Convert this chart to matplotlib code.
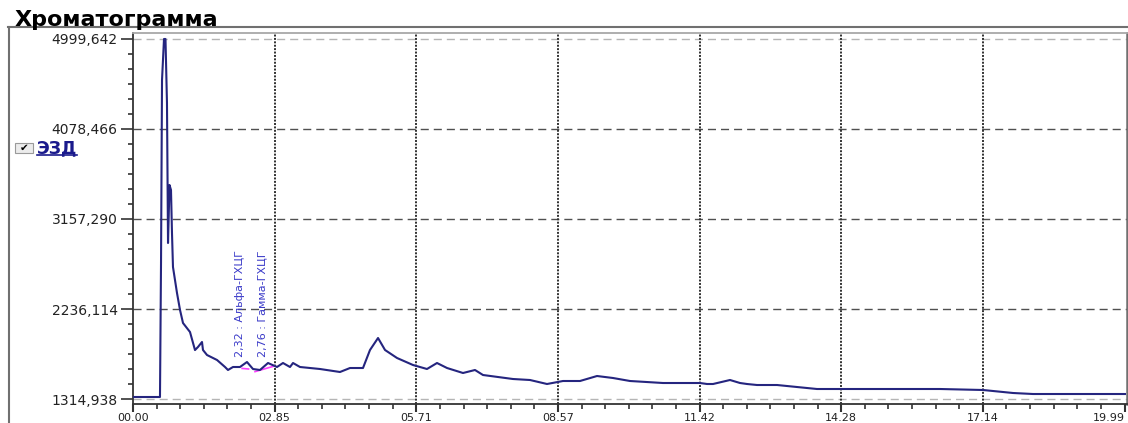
import numpy as np
import matplotlib
matplotlib.use("Agg")
import matplotlib.pyplot as plt
from matplotlib.ticker import FixedLocator, NullFormatter
from matplotlib.lines import Line2D
from matplotlib.patches import Rectangle

# ---------------- data ----------------
title = "Хроматограмма"
detector = "ЭЗД"

time_min = [0.000, 0.544, 0.565, 0.585, 0.625, 0.655, 0.685, 0.706, 0.736, 0.766,
            0.786, 0.806, 0.887, 0.948, 1.008, 1.149, 1.250, 1.310, 1.391, 1.411,
            1.492, 1.694, 1.855, 1.915, 2.016, 2.157, 2.298, 2.419, 2.560, 2.722,
            2.903, 3.024, 3.165, 3.226, 3.367, 3.770, 4.173, 4.375, 4.637, 4.778,
            4.940, 5.081, 5.323, 5.645, 5.927, 6.129, 6.331, 6.653, 6.895, 7.056,
            7.661, 8.004, 8.347, 8.669, 9.012, 9.355, 9.677, 10.020, 10.685, 11.431,
            11.573, 11.694, 12.036, 12.238, 12.379, 12.581, 12.984, 13.387, 13.790, 16.270,
            17.137, 17.742, 18.145, 19.999]
signal = [1335.4, 1335.4, 2717.2, 4580.0, 4999.6, 4999.6, 4344.6, 2911.6, 3505.3, 3454.1,
          3014.0, 2666.0, 2399.9, 2225.9, 2092.8, 2000.7, 1815.9, 1847.2, 1898.4, 1816.5,
          1765.3, 1714.1, 1642.5, 1611.8, 1642.5, 1642.5, 1693.6, 1622.0, 1611.8, 1683.4,
          1642.5, 1683.4, 1642.5, 1683.4, 1642.5, 1622.0, 1591.3, 1632.2, 1632.2, 1816.5,
          1939.3, 1816.5, 1734.6, 1662.9, 1622.0, 1683.4, 1632.2, 1581.1, 1611.8, 1560.6,
          1519.6, 1509.4, 1468.5, 1499.2, 1499.2, 1550.3, 1529.9, 1499.2, 1478.7, 1478.7,
          1468.5, 1468.5, 1509.4, 1478.7, 1468.5, 1458.2, 1458.2, 1437.7, 1417.3, 1417.3,
          1407.1, 1376.4, 1366.1, 1366.1]

y_ticks = [1314.938, 2236.114, 3157.290, 4078.466, 4999.642]
y_tick_labels = ["1314,938", "2236,114", "3157,290", "4078,466", "4999,642"]
x_ticks = [0.0, 2.8557, 5.7114, 8.5671, 11.4229, 14.2786, 17.1343, 19.99]
x_tick_labels = ["00.00", "02.85", "05.71", "08.57", "11.42", "14.28", "17.14", "19.99"]

peak_times = [2.32, 2.76]
peak_labels = ["2,32 : Альфа-ГХЦГ", "2,76 : Гамма-ГХЦГ"]
baseline_t0 = [2.20, 2.46]
baseline_t1 = [2.33, 2.82]
baseline_v0 = [1628.0, 1595.0]
baseline_v1 = [1622.0, 1648.0]
label_start = [1745.0, 1745.0]

# ---------------- figure ----------------
W, H = 1128, 423
fig = plt.figure(figsize=(W / 100, H / 100), dpi=100)
fig.patch.set_facecolor("white")
ax = fig.add_axes([133 / W, 19 / H, 994 / W, 371 / H])
ax.set_xlim(0, 20.04)
ax.set_ylim(1263.8, 5061)

navy = "#25257f"
# grid
for yt in y_ticks:
    edge = yt in (y_ticks[0], y_ticks[-1])
    ax.axhline(yt, color="#b5b5b5" if edge else "#505050", lw=1.0,
               linestyle=(0, (5.8, 3.6)), zorder=1)
for xt in x_ticks[1:-1]:
    ax.axvline(xt, color="#303030", lw=1.4, linestyle=(0, (1, 0.75)), zorder=1)

# peak baselines
for t0, t1, v0, v1 in zip(baseline_t0, baseline_t1, baseline_v0, baseline_v1):
    ax.plot([t0, t1], [v0, v1], color="#ff40ff", lw=1.2, zorder=2)

ax.plot(time_min, signal, color=navy, lw=1.5, zorder=3)

for t, lab, vs in zip(peak_times, peak_labels, label_start):
    ax.text(t - 0.16, vs, lab, rotation=90, ha="center", va="bottom",
            fontsize=8, color="#3a3ac8", zorder=4)

# ticks
ax.yaxis.set_major_locator(FixedLocator(y_ticks))
ax.set_yticklabels(y_tick_labels)
ymin = []
for a, b in zip(y_ticks[:-1], y_ticks[1:]):
    ymin += list(np.linspace(a, b, 7)[1:-1])
ax.yaxis.set_minor_locator(FixedLocator(ymin))
ax.xaxis.set_major_locator(FixedLocator(x_ticks))
ax.set_xticklabels(x_tick_labels)
xmin = []
for a, b in zip(x_ticks[:-1], x_ticks[1:]):
    xmin += list(np.linspace(a, b, 7)[1:-1])
ax.xaxis.set_minor_locator(FixedLocator(xmin))
ax.yaxis.set_minor_formatter(NullFormatter())
ax.xaxis.set_minor_formatter(NullFormatter())

ax.tick_params(axis="y", which="major", length=8.6, width=1.2, color="#333333",
               pad=2.5, labelsize=10, labelcolor="#222222")
ax.tick_params(axis="y", which="minor", length=3.6, width=1.2, color="#333333")
ax.tick_params(axis="x", which="major", length=5.4, width=1.5, color="#333333",
               pad=0.8, labelsize=8, labelcolor="#222222")
ax.tick_params(axis="x", which="minor", length=3.4, width=1.2, color="#333333")
ax.get_xticklabels()[-1].set_horizontalalignment("right")

ax.spines["left"].set_color("#333333")
ax.spines["left"].set_linewidth(1.3)
ax.spines["bottom"].set_color("#333333")
ax.spines["bottom"].set_linewidth(1.3)
ax.spines["top"].set_color("#a8a8a8")
ax.spines["top"].set_linewidth(1.3)
ax.spines["right"].set_color("#707070")
ax.spines["right"].set_linewidth(1.8)

# outer panel decorations
fig.text(15 / W, 1 - 25.5 / H, title, fontsize=16, fontweight="bold",
         ha="left", va="baseline", color="black")
fig.add_artist(Line2D([8 / W, 1.0], [1 - 27 / H] * 2, color="#707070", lw=1.5,
                      transform=fig.transFigure))
fig.add_artist(Line2D([9 / W] * 2, [0.0, 1 - 27 / H], color="#707070", lw=1.5,
                      transform=fig.transFigure))

fig.add_artist(Rectangle((15 / W, 1 - 153 / H), 18 / W, 10 / H,
                         transform=fig.transFigure, facecolor="#ececec",
                         edgecolor="#9a9a9a", lw=0.8))
fig.text(24 / W, 1 - 148 / H, "✔", fontsize=7.5, ha="center", va="center",
         color="black")
leg = fig.text(37 / W, 1 - 153 / H, detector, fontsize=12.5, fontweight="bold",
               color="#1a1a8c", ha="left", va="baseline")
fig.canvas.draw()
bb = leg.get_window_extent()
fig.add_artist(Line2D([bb.x0 / W, bb.x1 / W], [1 - 155 / H] * 2, color="#1a1a8c",
                      lw=1.2, transform=fig.transFigure))

fig.savefig("out.png", dpi=100)
